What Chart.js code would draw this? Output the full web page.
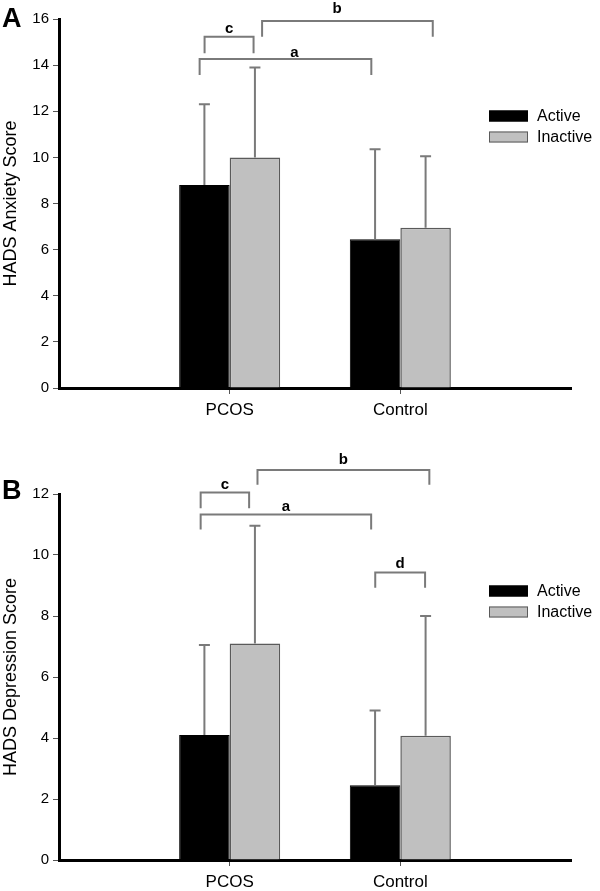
<!DOCTYPE html>
<html>
<head>
<meta charset="utf-8">
<script src="https://cdn.jsdelivr.net/npm/chart.js@4/dist/chart.umd.min.js"></script>
<style>
  body { margin: 0; background: #fff; }
  .panel { position: relative; width: 600px; }
  canvas { display: block; }
</style>
</head>
<body>
<div class="panel"><canvas id="anxiety" width="600" height="445"></canvas></div>
<div class="panel"><canvas id="depression" width="600" height="446"></canvas></div>
<script>
// categories (empty slots at both ends so the axis runs past the groups)
const groups = ['', 'PCOS', 'Control', ''];
const seriesNames = ['Active', 'Inactive'];

// HADS anxiety means and upper SD
const anxietyActive = [null, 8.8, 6.45, null];
const anxietyActiveSD = [null, 3.5, 3.9, null];
const anxietyInactive = [null, 10.0, 6.95, null];
const anxietyInactiveSD = [null, 3.9, 3.1, null];

// HADS depression means and upper SD
const depressionActive = [null, 4.1, 2.45, null];
const depressionActiveSD = [null, 2.95, 2.45, null];
const depressionInactive = [null, 7.1, 4.07, null];
const depressionInactiveSD = [null, 3.86, 3.93, null];

// significance brackets: x in category units, y in score units
const anxietyBrackets = [
  { x1: 0.853, x2: 1.14, top: 15.23, leg: 14.51, label: 'c', ly: 15.39 },
  { x1: 0.824, x2: 1.83, top: 14.27, leg: 13.57, label: 'a', ly: 14.35, lx: 1.38 },
  { x1: 1.19, x2: 2.19, top: 15.91, leg: 15.23, label: 'b', ly: 16.26, lx: 1.63 }
];
const depressionBrackets = [
  { x1: 1.163, x2: 2.17, top: 12.79, leg: 12.3, label: 'b', ly: 12.97 },
  { x1: 0.83, x2: 1.114, top: 12.05, leg: 11.53, label: 'c', ly: 12.15 },
  { x1: 0.83, x2: 1.829, top: 11.33, leg: 10.84, label: 'a', ly: 11.45 },
  { x1: 1.853, x2: 2.145, top: 9.43, leg: 8.93, label: 'd', ly: 9.56 }
];

const FONT = 'Arial, "Liberation Sans", Helvetica, sans-serif';
const LINE_GRAY = '#7a7a7a';

// upper error bars with caps
const errorBars = {
  id: 'errorBars',
  afterDatasetsDraw(chart) {
    const ctx = chart.ctx;
    const y = chart.scales.y;
    ctx.save();
    ctx.strokeStyle = LINE_GRAY;
    ctx.lineWidth = 2;
    chart.data.datasets.forEach((ds, di) => {
      const meta = chart.getDatasetMeta(di);
      meta.data.forEach((bar, i) => {
        const v = ds.data[i];
        if (v === null) return;
        const top = y.getPixelForValue(v + ds.sd[i]);
        ctx.beginPath();
        ctx.moveTo(bar.x, bar.y);
        ctx.lineTo(bar.x, top);
        ctx.moveTo(bar.x - 5.5, top);
        ctx.lineTo(bar.x + 5.5, top);
        ctx.stroke();
      });
    });
    ctx.restore();
  }
};

// brackets, legend and panel letter
const annotations = {
  id: 'annotations',
  afterDraw(chart, args, opts) {
    const ctx = chart.ctx;
    const x = chart.scales.x;
    const y = chart.scales.y;
    ctx.save();
    ctx.strokeStyle = LINE_GRAY;
    ctx.lineWidth = 2;
    ctx.fillStyle = '#000';
    ctx.font = 'bold 15px ' + FONT;
    ctx.textAlign = 'center';
    ctx.textBaseline = 'alphabetic';
    (opts.brackets || []).forEach(b => {
      const x1 = x.getPixelForValue(b.x1), x2 = x.getPixelForValue(b.x2);
      const t = y.getPixelForValue(b.top), l = y.getPixelForValue(b.leg);
      ctx.beginPath();
      ctx.moveTo(x1, l);
      ctx.lineTo(x1, t);
      ctx.lineTo(x2, t);
      ctx.lineTo(x2, l);
      ctx.stroke();
      const lx = b.lx !== undefined ? x.getPixelForValue(b.lx) : (x1 + x2) / 2;
      ctx.fillText(b.label, lx, y.getPixelForValue(b.ly));
    });

    // legend
    ctx.textAlign = 'left';
    ctx.textBaseline = 'middle';
    ctx.font = '16px ' + FONT;
    chart.data.datasets.forEach((ds, i) => {
      const cy = opts.legendY + i * 21;
      ctx.fillStyle = ds.backgroundColor;
      ctx.fillRect(opts.legendX, cy - 5.5, 39, 11);
      ctx.strokeStyle = ds.borderColor;
      ctx.lineWidth = 1;
      ctx.strokeRect(opts.legendX + 0.5, cy - 5, 38, 10);
      ctx.fillStyle = '#000';
      ctx.fillText(ds.label, opts.legendX + 48, cy + 1);
    });

    // panel letter
    ctx.font = 'bold 27px ' + FONT;
    ctx.textBaseline = 'alphabetic';
    ctx.fillText(opts.letter, 2, opts.letterY);
    ctx.restore();
  }
};

function makeChart(id, active, activeSD, inactive, inactiveSD, yMax, title, brackets, layout) {
  return new Chart(document.getElementById(id), {
    type: 'bar',
    data: {
      labels: groups,
      datasets: [{
        label: seriesNames[0],
        data: active,
        sd: activeSD,
        backgroundColor: '#000000',
        borderColor: '#000000',
        borderWidth: 1
      }, {
        label: seriesNames[1],
        data: inactive,
        sd: inactiveSD,
        backgroundColor: '#c0c0c0',
        borderColor: '#5a5a5a',
        borderWidth: 1.5
      }]
    },
    plugins: [errorBars, annotations],
    options: {
      responsive: false,
      animation: false,
      categoryPercentage: 0.592,
      barPercentage: 1,
      layout: { padding: { top: layout.top, right: 29, left: 0, bottom: 0 } },
      plugins: {
        legend: { display: false },
        tooltip: { enabled: false },
        annotations: {
          brackets: brackets,
          legendX: 489,
          legendY: layout.legendY,
          letter: layout.letter,
          letterY: layout.letterY
        }
      },
      scales: {
        x: {
          offset: false,
          afterFit: s => { s.height = layout.xHeight; },
          border: { color: '#000', width: 3 },
          grid: {
            offset: false,
            drawOnChartArea: false,
            tickLength: 6,
            color: c => (c.index === 1 || c.index === 2) ? '#555' : 'rgba(0,0,0,0)'
          },
          ticks: { color: '#000', padding: 6, font: { family: FONT, size: 17 } }
        },
        y: {
          min: 0,
          max: yMax,
          afterFit: s => { s.width = 59; },
          border: { color: '#000', width: 3 },
          grid: { drawOnChartArea: false, tickLength: 6, color: '#555' },
          ticks: { stepSize: 2, color: '#000', padding: 4, font: { family: FONT, size: 15 } },
          title: {
            display: true,
            text: title,
            color: '#000',
            padding: { top: 0, bottom: 0 },
            font: { family: FONT, size: 18 }
          }
        }
      }
    }
  });
}

makeChart('anxiety', anxietyActive, anxietyActiveSD, anxietyInactive, anxietyInactiveSD,
  16, 'HADS Anxiety Score', anxietyBrackets,
  { top: 19, xHeight: 57, legendY: 116, letter: 'A', letterY: 27 });

makeChart('depression', depressionActive, depressionActiveSD, depressionInactive, depressionInactiveSD,
  12, 'HADS Depression Score', depressionBrackets,
  { top: 49, xHeight: 31, legendY: 146, letter: 'B', letterY: 54 });
</script>
</body>
</html>
